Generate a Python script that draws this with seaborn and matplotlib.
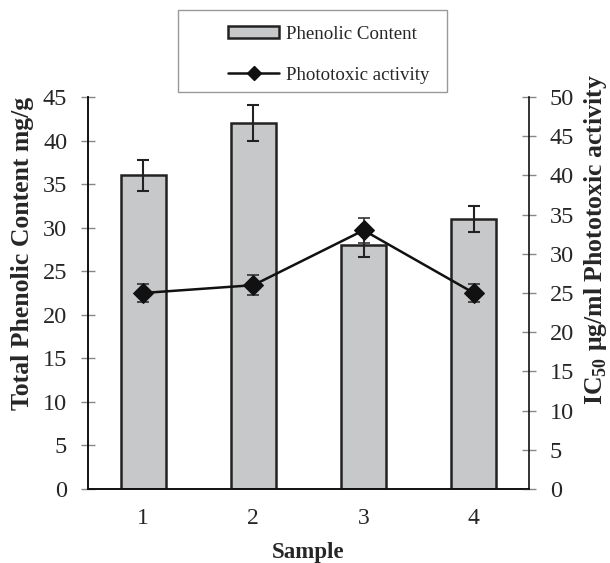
import numpy as np
import matplotlib
matplotlib.use("Agg")
import matplotlib.pyplot as plt
import seaborn as sns
from matplotlib.patches import Patch, Rectangle
from matplotlib.lines import Line2D
from matplotlib.ticker import MultipleLocator, FixedLocator

# Données
samples = ["1", "2", "3", "4"]
phenolic = [36, 42, 28, 31]
phenolic_err = [1.8, 2.1, 1.4, 1.5]
ic50 = [25, 26, 33, 25]
ic50_err = [1.2, 1.25, 1.6, 1.2]

BAR_COLOR = "#c7c8ca"
EDGE = "#222222"

sns.set_theme(style="white")
plt.rcParams["font.family"] = ["Liberation Serif", "DejaVu Serif"]
plt.rcParams["mathtext.fontset"] = "custom"
plt.rcParams["mathtext.rm"] = "Liberation Serif"
plt.rcParams["mathtext.bf"] = "Liberation Serif:bold"

fig = plt.figure(figsize=(6.10, 5.63), dpi=100)
ax = fig.add_axes([88 / 610, 1 - 489 / 563, 441 / 610, 392 / 563])

sns.barplot(x=samples, y=phenolic, color=BAR_COLOR, saturation=1,
            edgecolor=EDGE, linewidth=1.8, width=0.41, ax=ax)
pos = np.arange(len(samples))
ax.errorbar(pos, phenolic, yerr=phenolic_err, fmt="none", ecolor=EDGE,
            elinewidth=1.5, capsize=4, capthick=1.5, zorder=5)

ax.set_xlim(-0.5, len(samples) - 0.5)
ax.set_ylim(0, 45)
ax.yaxis.set_major_locator(MultipleLocator(5))
ax.xaxis.set_minor_locator(FixedLocator(np.arange(-0.5, len(samples), 1.0)))
ax.tick_params(axis="x", which="major", length=0, labelsize=17, pad=14)
ax.tick_params(axis="x", which="minor", direction="inout", length=9,
               width=1, color="#777777")
ax.tick_params(axis="y", direction="inout", length=10, width=1,
               color="#888888", labelsize=17.5, pad=10, left=True)
ax.set_xlabel("Sample", fontsize=16.5, fontweight="bold", labelpad=9)
ax.set_ylabel("Total Phenolic Content mg/g", fontsize=18.5,
              fontweight="bold")
ax.yaxis.set_label_coords(-54 / 441, 0.60)

ax2 = ax.twinx()
sns.lineplot(x=pos, y=ic50, ax=ax2, color="#111111", linewidth=1.8,
             marker="D", markersize=10, markeredgecolor="#111111", zorder=6)
ax2.errorbar(pos, ic50, yerr=ic50_err, fmt="none", ecolor="#333333",
             elinewidth=1.2, capsize=4.5, capthick=1.2, zorder=4)
ax2.set_ylim(0, 50)
ax2.yaxis.set_major_locator(MultipleLocator(5))
ax2.tick_params(axis="y", direction="inout", length=10, width=1,
                color="#888888", labelsize=17.5, pad=10, right=True)
ax2.set_ylabel(r"IC$_{\mathbf{50}}$ μg/ml Phototoxic activity", fontsize=18.5,
               fontweight="bold")
ax2.yaxis.set_label_coords(1 + 53 / 441, 0.635)

for a in (ax, ax2):
    a.spines["top"].set_visible(False)
    for s in ("left", "right", "bottom"):
        a.spines[s].set_color("#111111")
        a.spines[s].set_linewidth(1.2)
ax.spines["right"].set_visible(False)

# Légende dans un cadre séparé
fig.patches.append(Rectangle((178 / 610, 1 - 92 / 563), 269 / 610, 82 / 563,
                             transform=fig.transFigure, fill=False,
                             edgecolor="#999999", linewidth=1.0))
handles = [
    Patch(facecolor=BAR_COLOR, edgecolor=EDGE, linewidth=1.8),
    Line2D([], [], color="#111111", linewidth=1.8, marker="D", markersize=7),
]
fig.legend(handles, ["Phenolic Content", "Phototoxic activity"],
           loc="upper left", bbox_to_anchor=(228 / 610, 1 - 26 / 563),
           frameon=False, fontsize=13.6, handlelength=2.7, handleheight=0.6,
           handletextpad=0.35, labelspacing=1.25, borderpad=0, borderaxespad=0)

fig.savefig("out.png", dpi=100)
plt.close()
